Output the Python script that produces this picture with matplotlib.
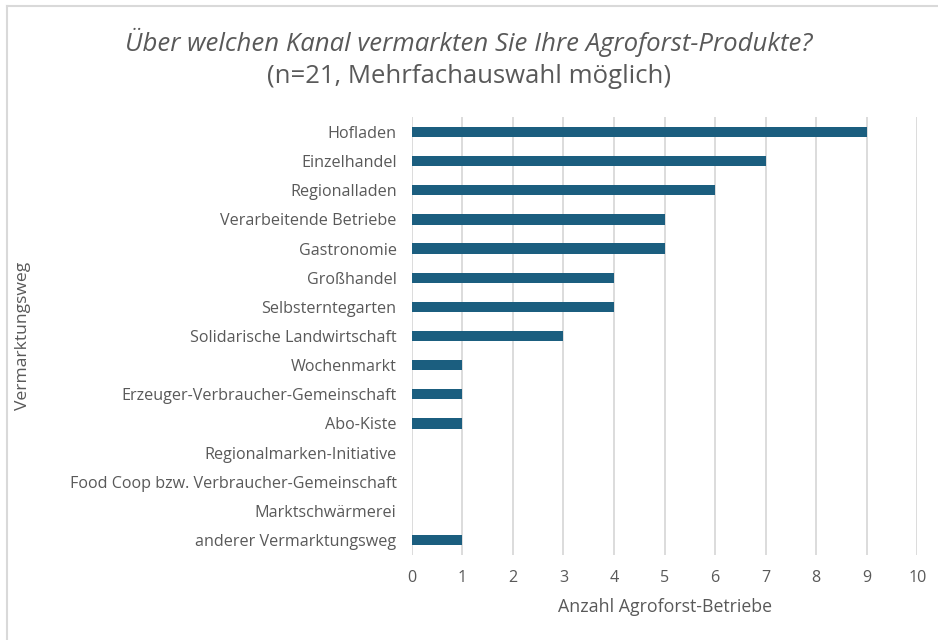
import numpy as np
import matplotlib.pyplot as plt
from matplotlib.lines import Line2D

plt.rcParams['font.family'] = ['Open Sans', 'DejaVu Sans']

kanaele = ["Hofladen", "Einzelhandel", "Regionalladen", "Verarbeitende Betriebe",
           "Gastronomie", "Großhandel", "Selbsterntegarten",
           "Solidarische Landwirtschaft", "Wochenmarkt",
           "Erzeuger-Verbraucher-Gemeinschaft", "Abo-Kiste",
           "Regionalmarken-Initiative", "Food Coop bzw. Verbraucher-Gemeinschaft",
           "Marktschwärmerei", "anderer Vermarktungsweg"]
anzahl = [9, 7, 6, 5, 5, 4, 4, 3, 1, 1, 1, 0, 0, 0, 1]
xticks = list(range(0, 11))

grau = "#595959"
blau = "#1B5E7F"

fig = plt.figure(figsize=(9.38, 6.4), dpi=100)
ax = fig.add_axes([0.439, 0.1334, 0.539, 0.6832])

y = np.arange(len(kanaele))
ax.barh(y, anzahl, height=0.35, color=blau, zorder=3)
ax.set_ylim(len(kanaele) - 0.5, -0.5)
ax.set_xlim(0, 10)
ax.set_xticks(xticks)
ax.set_yticks(y)
ax.set_yticklabels(kanaele)
ax.tick_params(length=0, labelsize=11.6, labelcolor=grau)
ax.tick_params(axis='y', pad=11)
ax.tick_params(axis='x', pad=11)
ax.grid(axis='x', color="#D9D9D9", linewidth=1.3, zorder=0)
for s in ax.spines.values():
    s.set_visible(False)

ax.set_xlabel("Anzahl Agroforst-Betriebe", fontsize=12.8, color=grau, labelpad=9)
fig.text(0.025, 0.475, "Vermarktungsweg", rotation=90, ha='center', va='center',
         fontsize=12.6, color=grau)

fig.text(0.5, 0.933, "Über welchen Kanal vermarkten Sie Ihre Agroforst-Produkte?",
         ha='center', va='center', fontsize=18.5, style='italic', color=grau)
fig.text(0.5, 0.881, "(n=21, Mehrfachauswahl möglich)",
         ha='center', va='center', fontsize=18.5, color=grau)

# Rahmen oben und links
fig.add_artist(Line2D([0.007, 1.0], [0.991, 0.991], transform=fig.transFigure,
                      color="#D9D9D9", linewidth=1.5))
fig.add_artist(Line2D([0.007, 0.007], [0.0, 0.991], transform=fig.transFigure,
                      color="#D9D9D9", linewidth=1.5))

fig.savefig("out.png", dpi=100)
